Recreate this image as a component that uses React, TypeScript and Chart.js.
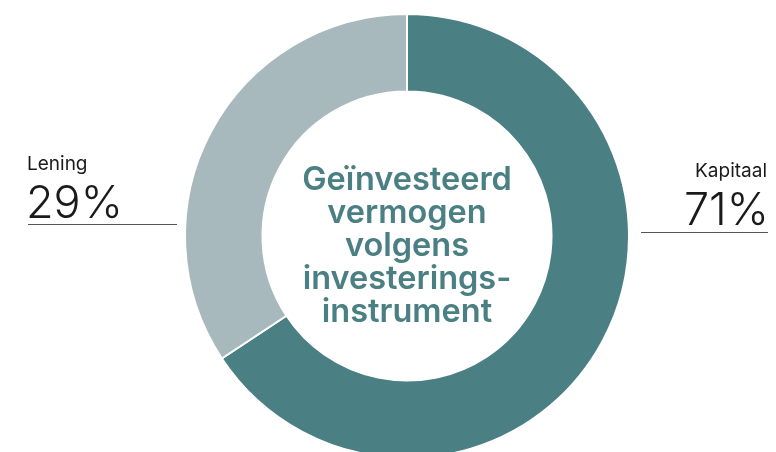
import React, { useEffect, useRef } from "react";
import { Chart, registerables } from "chart.js";

Chart.register(...registerables);

const categories = ["Kapitaal", "Lening"];
// slice sizes as drawn in the reference (boundary at ~236° from top)
const values = [65.7, 34.3];
const percentLabels = ["71%", "29%"];
const colors = ["#4a7f83", "#a8b9bd"];
const centerLines = ["Geïnvesteerd", "vermogen", "volgens", "investerings-", "instrument"];

const W = 776;
const H = 452;

const labelsPlugin = {
  id: "labelsPlugin",
  afterDraw(chart: any) {
    const ctx = chart.ctx as CanvasRenderingContext2D;
    const meta = chart.getDatasetMeta(0);
    const arc = meta.data[0];
    const cx = arc.x;
    const cy = arc.y;
    ctx.save();
    // center title
    ctx.fillStyle = "#4a7f83";
    ctx.textAlign = "center";
    ctx.textBaseline = "alphabetic";
    ctx.font = "600 32.5px Inter";
    const lh = 33;
    centerLines.forEach((line, i) => {
      ctx.fillText(line, cx, cy - 46 + i * lh);
    });

    // left label (Lening)
    ctx.fillStyle = "#1a1a1a";
    ctx.textAlign = "left";
    ctx.font = "400 19px Inter";
    ctx.fillText(categories[1], 27, 170);
    ctx.font = "300 45px Inter";
    ctx.fillText(percentLabels[1], 26, 218);
    ctx.strokeStyle = "#555555";
    ctx.lineWidth = 1;
    ctx.beginPath();
    ctx.moveTo(28, 224.5);
    ctx.lineTo(177, 224.5);
    ctx.stroke();

    // right label (Kapitaal)
    ctx.textAlign = "right";
    ctx.font = "400 19px Inter";
    ctx.fillText(categories[0], 767, 177);
    ctx.font = "300 45px Inter";
    ctx.fillText(percentLabels[0], 769, 225);
    ctx.beginPath();
    ctx.moveTo(641, 232.5);
    ctx.lineTo(768, 232.5);
    ctx.stroke();
    ctx.restore();
  },
};

export default function App() {
  const ref = useRef<HTMLCanvasElement>(null);
  useEffect(() => {
    if (!ref.current) return;
    const chart = new Chart(ref.current, {
      type: "doughnut",
      data: {
        labels: categories,
        datasets: [
          {
            data: values,
            backgroundColor: colors,
            borderColor: "#ffffff",
            borderWidth: 2,
            hoverOffset: 0,
          },
        ],
      },
      options: {
        responsive: false,
        animation: false,
        radius: 222,
        cutout: "65.1%",
        layout: { padding: { left: 38, right: 0, top: 20, bottom: 0 } },
        plugins: {
          legend: { display: false },
          tooltip: { enabled: false },
        },
      } as any,
      plugins: [labelsPlugin],
    });
    return () => chart.destroy();
  }, []);
  return (
    <div style={{ position: "fixed", left: 0, top: 0, width: W, height: H, background: "#fff" }}>
      <canvas ref={ref} width={W} height={H} style={{ width: W, height: H, display: "block" }} />
    </div>
  );
}
